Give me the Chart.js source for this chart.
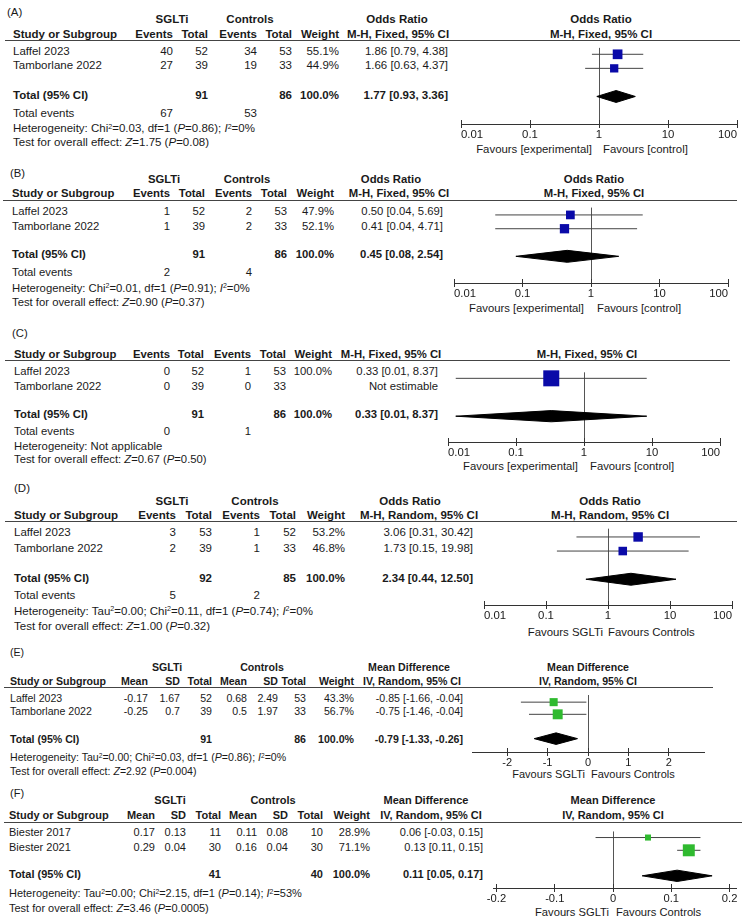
<!DOCTYPE html>
<html><head><meta charset="utf-8">
<script src="https://cdn.jsdelivr.net/npm/chart.js@4.4.1/dist/chart.umd.min.js"></script>
<style>
html,body{margin:0;padding:0;background:#fff;}
#root{position:relative;width:751px;height:920px;overflow:hidden;font-family:"Liberation Sans",Arial,Helvetica,sans-serif;color:#1a1a1a;background:#fff;}
.t{position:absolute;white-space:nowrap;height:16px;line-height:16px;}
.t sup{font-size:0.62em;position:relative;top:-0.45em;vertical-align:baseline;line-height:0;}
.hl{position:absolute;height:1px;background:#444;}
canvas{position:absolute;left:0;}
</style></head><body><div id="root"></div>
<script>
// ================= DATA =================
const OR_ticks = [0.01, 0.1, 1, 10, 100];
const E_ticks = [-2, -1, 0, 1, 2];
const F_ticks = [-0.2, -0.1, 0, 0.1, 0.2];

// (A)
const A_studies = ['Laffel 2023', 'Tamborlane 2022'];
const A_expEvents = [40, 27];
const A_expTotal = [52, 39];
const A_ctlEvents = [34, 19];
const A_ctlTotal = [53, 33];
const A_weight = [55.1, 44.9];
const A_est = [1.86, 1.66];
const A_lo = [0.79, 0.63];
const A_hi = [4.38, 4.37];
const A_pooled = [1.77, 0.93, 3.36];
const A_totalN = [91, 86];
const A_totalEvents = [67, 53];
const A_groups = ['SGLTi', 'Controls', 'Odds Ratio'];
const A_method = ['Odds Ratio', 'M-H, Fixed, 95% CI'];
const A_favours = ['Favours [experimental]', 'Favours [control]'];
const A_het = 'Heterogeneity: Chi<sup>2</sup>=0.03, df=1 (<i>P</i>=0.86); <i>I</i><sup>2</sup>=0%';
const A_test = 'Test for overall effect: <i>Z</i>=1.75 (<i>P</i>=0.08)';

// (B)
const B_studies = ['Laffel 2023', 'Tamborlane 2022'];
const B_expEvents = [1, 1];
const B_expTotal = [52, 39];
const B_ctlEvents = [2, 2];
const B_ctlTotal = [53, 33];
const B_weight = [47.9, 52.1];
const B_est = [0.50, 0.41];
const B_lo = [0.04, 0.04];
const B_hi = [5.69, 4.71];
const B_pooled = [0.45, 0.08, 2.54];
const B_totalN = [91, 86];
const B_totalEvents = [2, 4];
const B_groups = ['SGLTi', 'Controls', 'Odds Ratio'];
const B_method = ['Odds Ratio', 'M-H, Fixed, 95% CI'];
const B_favours = ['Favours [experimental]', 'Favours [control]'];
const B_het = 'Heterogeneity: Chi<sup>2</sup>=0.01, df=1 (<i>P</i>=0.91); <i>I</i><sup>2</sup>=0%';
const B_test = 'Test for overall effect: <i>Z</i>=0.90 (<i>P</i>=0.37)';

// (C)
const C_studies = ['Laffel 2023', 'Tamborlane 2022'];
const C_expEvents = [0, 0];
const C_expTotal = [52, 39];
const C_ctlEvents = [1, 0];
const C_ctlTotal = [53, 33];
const C_weight = [100.0, null];
const C_est = [0.33, null];
const C_lo = [0.013, null];
const C_hi = [8.37, null];
const C_pooled = [0.33, 0.013, 8.37];
const C_totalN = [91, 86];
const C_totalEvents = [0, 1];
const C_groups = [];
const C_method = [null, 'M-H, Fixed, 95% CI'];
const C_favours = ['Favours [experimental]', 'Favours [control]'];
const C_het = 'Heterogeneity: Not applicable';
const C_test = 'Test for overall effect: <i>Z</i>=0.67 (<i>P</i>=0.50)';

// (D)
const D_studies = ['Laffel 2023', 'Tamborlane 2022'];
const D_expEvents = [3, 2];
const D_expTotal = [53, 39];
const D_ctlEvents = [1, 1];
const D_ctlTotal = [52, 33];
const D_weight = [53.2, 46.8];
const D_est = [3.06, 1.73];
const D_lo = [0.31, 0.15];
const D_hi = [30.42, 19.98];
const D_pooled = [2.34, 0.44, 12.50];
const D_totalN = [92, 85];
const D_totalEvents = [5, 2];
const D_groups = ['SGLTi', 'Controls', 'Odds Ratio'];
const D_method = ['Odds Ratio', 'M-H, Random, 95% CI'];
const D_favours = ['Favours SGLTi', 'Favours Controls'];
const D_het = 'Heterogeneity: Tau<sup>2</sup>=0.00; Chi<sup>2</sup>=0.11, df=1 (<i>P</i>=0.74); <i>I</i><sup>2</sup>=0%';
const D_test = 'Test for overall effect: <i>Z</i>=1.00 (<i>P</i>=0.32)';

// (E)
const E_studies = ['Laffel 2023', 'Tamborlane 2022'];
const E_expMean = [-0.17, -0.25];
const E_expSD = [1.67, 0.7];
const E_expN = [52, 39];
const E_ctlMean = [0.68, 0.5];
const E_ctlSD = [2.49, 1.97];
const E_ctlN = [53, 33];
const E_weight = [43.3, 56.7];
const E_est = [-0.85, -0.75];
const E_lo = [-1.66, -1.46];
const E_hi = [-0.04, -0.04];
const E_pooled = [-0.79, -1.33, -0.26];
const E_totalN = [91, 86];
const E_groups = ['SGLTi', 'Controls', 'Mean Difference'];
const E_method = ['Mean Difference', 'IV, Random, 95% CI'];
const E_favours = ['Favours SGLTi', 'Favours Controls'];
const E_het = 'Heterogeneity: Tau<sup>2</sup>=0.00; Chi<sup>2</sup>=0.03, df=1 (<i>P</i>=0.86); <i>I</i><sup>2</sup>=0%';
const E_test = 'Test for overall effect: <i>Z</i>=2.92 (<i>P</i>=0.004)';

// (F)
const F_studies = ['Biester 2017', 'Biester 2021'];
const F_expMean = [0.17, 0.29];
const F_expSD = [0.13, 0.04];
const F_expN = [11, 30];
const F_ctlMean = [0.11, 0.16];
const F_ctlSD = [0.08, 0.04];
const F_ctlN = [10, 30];
const F_weight = [28.9, 71.1];
const F_est = [0.06, 0.13];
const F_lo = [-0.03, 0.11];
const F_hi = [0.15, 0.15];
const F_pooled = [0.11, 0.05, 0.17];
const F_totalN = [41, 40];
const F_groups = ['SGLTi', 'Controls', 'Mean Difference'];
const F_method = ['Mean Difference', 'IV, Random, 95% CI'];
const F_favours = ['Favours SGLTi', 'Favours Controls'];
const F_het = 'Heterogeneity: Tau<sup>2</sup>=0.00; Chi<sup>2</sup>=2.15, df=1 (<i>P</i>=0.14); <i>I</i><sup>2</sup>=53%';
const F_test = 'Test for overall effect: <i>Z</i>=3.46 (<i>P</i>=0.0005)';

const OR_colNames = ['Events', 'Total', 'Events', 'Total', 'Weight'];
const MD_colNames = ['Mean', 'SD', 'Total', 'Mean', 'SD', 'Total', 'Weight'];

// ================= LAYOUT =================
const FONT = '"Liberation Sans", Arial, Helvetica, sans-serif';
const BLUE = '#0a0aa8';
const GREEN = '#2fba2f';

const LA = {label:'(A)', labelX:7, labelY:12, fs:11.5, studyX:13, yH1:19, yH2:33.5, lineY:40, lineX0:5, lineX1:740,
  rowsY:[51,65], totalY:94.8, eventsY:112.5, hetY:128.3, testY:142,
  colR:[173,208,257,292,339], ciR:448, ciHC:398, h1X:[172,250,397],
  f:{top:41, axis:124, left:461, right:737, ymin:0.543, ymax:5.957, log:true, min:0.01, max:100, align:'inner', nullV:1,
     cx:601, yT1:19, yT2:33.5, favY:149, favL:592, favR:603, fs:11.4, color:BLUE}};
const LB = {label:'(B)', labelX:10, labelY:172.5, fs:11.3, studyX:12, yH1:178.5, yH2:193, lineY:200, lineX0:3, lineX1:737,
  rowsY:[211,226], totalY:254, eventsY:271.7, hetY:287.5, testY:301.5,
  colR:[170,205,252,287,334], ciR:443, ciHC:399, h1X:[164,247,391],
  f:{top:201, axis:283, left:454, right:728, ymin:0.467, ymax:5.933, log:true, min:0.01, max:100, align:'inner', nullV:1,
     cx:594, yT1:178.5, yT2:193, favY:307.5, favL:584, favR:597, fs:11.3, color:BLUE}};
const LC = {label:'(C)', labelX:12, labelY:332.5, fs:11.3, studyX:14, yH1:0, yH2:354, lineY:360, lineX0:5, lineX1:730,
  rowsY:[371,386], totalY:414, eventsY:431, hetY:446, testY:459,
  colR:[170,204,251,286,332], ciR:438, ciHC:391, h1X:[],
  f:{top:361, axis:442, left:448, right:720, ymin:0.523, ymax:6.045, log:true, min:0.01, max:100, align:'inner', nullV:1,
     cx:587, yT1:0, yT2:354, favY:465.5, favL:578, favR:590, fs:11.3, color:BLUE}};
const LD = {label:'(D)', labelX:14, labelY:488, fs:11.5, studyX:14, yH1:500.5, yH2:515, lineY:521, lineX0:5, lineX1:737,
  rowsY:[532,548], totalY:577.5, eventsY:595, hetY:610.5, testY:626,
  colR:[176,212,260,296,345], ciR:473, ciHC:419, h1X:[172,255,410],
  f:{top:522, axis:605, left:484, right:732, ymin:0.413, ymax:5.827, log:true, min:0.01, max:100, align:'inner', nullV:1,
     cx:610, yT1:500.5, yT2:515, favY:631.5, favL:603, favR:608, fs:11.4, color:BLUE}};
const LE = {label:'(E)', labelX:10, labelY:651.5, fs:10.6, studyX:10, yH1:667, yH2:681, lineY:687, lineX0:4, lineX1:713,
  rowsY:[697.5,711], totalY:738.5, eventsY:null, hetY:756.5, testY:771,
  colR:[148,180,212,247,278,306,354], ciR:463, ciHC:412, h1X:[167,262,409],
  f:{top:688, axis:752, left:472, right:704, ymin:0.415, ymax:5.097, log:false, min:-2.87, max:2.87, align:'center', nullV:0,
     cx:588, yT1:667, yT2:681, favY:773.5, favL:585, favR:591, fs:11, color:GREEN}};
const LF = {label:'(F)', labelX:10, labelY:792.5, fs:11, studyX:9, yH1:800, yH2:815, lineY:822, lineX0:4, lineX1:742,
  rowsY:[832,846.5], totalY:874, eventsY:null, hetY:893, testY:908,
  colR:[155,186,221,257,288,323,370], ciR:483, ciHC:431, h1X:[170,273,426],
  f:{top:823, axis:888, left:493, right:736, ymin:0.523, ymax:4.954, log:false, min:-0.206, max:0.211, align:'center', nullV:0,
     cx:613, yT1:800, yT2:815, favY:912, favL:609, favR:616, fs:11.2, color:GREEN}};

// ================= HELPERS =================
const root = document.getElementById('root');
function T(x, y, html, align, size, bold) {
  const d = document.createElement('div');
  d.className = 't';
  d.style.fontSize = size + 'px';
  if (bold) d.style.fontWeight = 'bold';
  d.style.top = (y - 8) + 'px';
  if (align === 'left') d.style.left = x + 'px';
  else if (align === 'right') d.style.right = (751 - x) + 'px';
  else { d.style.left = (x - 150) + 'px'; d.style.width = '300px'; d.style.textAlign = 'center'; }
  d.innerHTML = html;
  root.appendChild(d);
}
function HL(x0, x1, y) {
  const d = document.createElement('div');
  d.className = 'hl';
  d.style.left = x0 + 'px'; d.style.width = (x1 - x0) + 'px'; d.style.top = y + 'px';
  root.appendChild(d);
}
const f2 = v => v.toFixed(2);
const ciText = (e, l, h) => f2(e) + ' [' + f2(l) + ', ' + f2(h) + ']';
const pct = w => w.toFixed(1) + '%';

function buildTable(L, D) {
  T(L.labelX, L.labelY, L.label, 'left', L.fs, false);
  D.groups.forEach((g, j) => T(L.h1X[j], L.yH1, g, 'center', L.fs, true));
  T(L.studyX, L.yH2, 'Study or Subgroup', 'left', L.fs, true);
  D.colNames.forEach((n, j) => T(L.colR[j], L.yH2, n, 'right', L.fs, true));
  T(L.ciHC, L.yH2, D.method[1], 'center', L.fs, true);
  HL(L.lineX0, L.lineX1, L.lineY);
  const nc = D.cols.length;
  D.studies.forEach((s, i) => {
    const y = L.rowsY[i];
    T(L.studyX, y, s, 'left', L.fs, false);
    D.cols.forEach((arr, j) => T(L.colR[j], y, String(arr[i]), 'right', L.fs, false));
    if (D.weight[i] != null) T(L.colR[nc], y, pct(D.weight[i]), 'right', L.fs, false);
    T(L.ciR, y, D.est[i] == null ? 'Not estimable' : ciText(D.est[i], D.lo[i], D.hi[i]), 'right', L.fs, false);
  });
  T(L.studyX, L.totalY, 'Total (95% CI)', 'left', L.fs, true);
  D.totalCols.forEach((c, k) => T(L.colR[c], L.totalY, String(D.totalN[k]), 'right', L.fs, true));
  const wsum = D.weight.filter(w => w != null).reduce((a, b) => a + b, 0);
  T(L.colR[nc], L.totalY, pct(wsum), 'right', L.fs, true);
  T(L.ciR, L.totalY, ciText(D.pooled[0], D.pooled[1], D.pooled[2]), 'right', L.fs, true);
  if (D.totalEvents) {
    T(L.studyX, L.eventsY, 'Total events', 'left', L.fs, false);
    T(L.colR[0], L.eventsY, String(D.totalEvents[0]), 'right', L.fs, false);
    T(L.colR[2], L.eventsY, String(D.totalEvents[1]), 'right', L.fs, false);
  }
  T(L.studyX, L.hetY, D.het, 'left', L.fs, false);
  T(L.studyX, L.testY, D.test, 'left', L.fs, false);
}

const crossPlugin = {
  id: 'tickCross',
  afterDraw(chart) {
    const s = chart.scales.x, ctx = chart.ctx, b = chart.chartArea.bottom;
    ctx.save();
    ctx.strokeStyle = '#333';
    ctx.lineWidth = 1;
    s.ticks.forEach(t => {
      const px = Math.round(s.getPixelForValue(t.value) - 0.5) + 0.5;
      ctx.beginPath(); ctx.moveTo(px, b - 4); ctx.lineTo(px, b); ctx.stroke();
    });
    ctx.restore();
  }
};

function buildForest(L, D) {
  const F = L.f;
  if (D.method[0]) T(F.cx, F.yT1, D.method[0], 'center', L.fs, true);
  T(F.cx, F.yT2, D.method[1], 'center', L.fs, true);
  T(F.favL, F.favY, D.favours[0], 'right', F.fs, false);
  T(F.favR, F.favY, D.favours[1], 'left', F.fs, false);

  const cv = document.createElement('canvas');
  const H = F.axis - F.top + 24;
  cv.width = 751; cv.height = H;
  cv.style.width = '751px'; cv.style.height = H + 'px';
  cv.style.top = F.top + 'px';
  root.appendChild(cv);

  const ppu = (F.axis - F.top) / (F.ymax - F.ymin);
  const half = 6.5 / ppu;
  const rows = D.est.map((_, i) => i + 1);
  const totalRow = D.est.length + 2;
  const ds = [];
  D.est.forEach((e, i) => {
    if (e == null) return;
    ds.push({type:'line', data:[{x:D.lo[i], y:rows[i]}, {x:D.hi[i], y:rows[i]}],
      borderColor:'#444', borderWidth:1, pointRadius:0, pointHoverRadius:0, fill:false, order:2, clip:false, tension:0});
  });
  const idx = D.est.map((e, i) => i).filter(i => D.est[i] != null);
  const radii = idx.map(i => (2 + 0.14 * D.weight[i]) / Math.SQRT2);
  ds.push({type:'scatter', data: idx.map(i => ({x:D.est[i], y:rows[i]})), pointStyle:'rect',
    pointRadius: radii, pointHoverRadius: radii, backgroundColor: F.color, pointBackgroundColor: F.color,
    borderWidth:0, pointBorderWidth:0, order:0, clip:false});
  const pe = D.pooled[0], pl = D.pooled[1], ph = D.pooled[2];
  ds.push({type:'line', data:[{x:pl, y:totalRow}, {x:pe, y:totalRow - half}, {x:ph, y:totalRow}, {x:pe, y:totalRow + half}, {x:pl, y:totalRow}],
    fill:'shape', backgroundColor:'#000', borderColor:'#000', borderWidth:1, pointRadius:0, pointHoverRadius:0, order:1, clip:false, tension:0});

  new Chart(cv, {
    type: 'scatter',
    data: { datasets: ds },
    options: {
      responsive: false, animation: false, devicePixelRatio: 1, events: [],
      layout: { padding: { left: F.left, right: 751 - F.right, top: 0, bottom: 0 } },
      plugins: { legend: { display: false }, tooltip: { enabled: false } },
      scales: {
        x: {
          type: F.log ? 'logarithmic' : 'linear', min: F.min, max: F.max, position: 'bottom',
          afterBuildTicks: s => { s.ticks = D.ticks.map(v => ({ value: v })); },
          afterFit: s => { s.height = 24; },
          ticks: { align: F.align, padding: 0, color: '#1a1a1a', font: { size: F.fs, family: FONT }, maxRotation: 0, minRotation: 0, autoSkip: false,
                   callback: v => String(v) },
          grid: { drawOnChartArea: true, drawTicks: true, tickLength: 4, lineWidth: 1, tickColor: '#333',
                  color: c => (c.tick && c.tick.value === F.nullV) ? '#555' : 'rgba(0,0,0,0)' },
          border: { display: true, color: '#333', width: 1 }
        },
        y: { type: 'linear', display: false, reverse: true, min: F.ymin, max: F.ymax }
      }
    },
    plugins: [crossPlugin]
  });
}

function panel(L, D) { buildTable(L, D); buildForest(L, D); }

Chart.defaults.font.family = FONT;

panel(LA, {studies:A_studies, cols:[A_expEvents, A_expTotal, A_ctlEvents, A_ctlTotal], colNames:OR_colNames, weight:A_weight,
  est:A_est, lo:A_lo, hi:A_hi, pooled:A_pooled, totalN:A_totalN, totalCols:[1,3], totalEvents:A_totalEvents,
  groups:A_groups, method:A_method, favours:A_favours, het:A_het, test:A_test, ticks:OR_ticks});
panel(LB, {studies:B_studies, cols:[B_expEvents, B_expTotal, B_ctlEvents, B_ctlTotal], colNames:OR_colNames, weight:B_weight,
  est:B_est, lo:B_lo, hi:B_hi, pooled:B_pooled, totalN:B_totalN, totalCols:[1,3], totalEvents:B_totalEvents,
  groups:B_groups, method:B_method, favours:B_favours, het:B_het, test:B_test, ticks:OR_ticks});
panel(LC, {studies:C_studies, cols:[C_expEvents, C_expTotal, C_ctlEvents, C_ctlTotal], colNames:OR_colNames, weight:C_weight,
  est:C_est, lo:C_lo, hi:C_hi, pooled:C_pooled, totalN:C_totalN, totalCols:[1,3], totalEvents:C_totalEvents,
  groups:C_groups, method:C_method, favours:C_favours, het:C_het, test:C_test, ticks:OR_ticks});
panel(LD, {studies:D_studies, cols:[D_expEvents, D_expTotal, D_ctlEvents, D_ctlTotal], colNames:OR_colNames, weight:D_weight,
  est:D_est, lo:D_lo, hi:D_hi, pooled:D_pooled, totalN:D_totalN, totalCols:[1,3], totalEvents:D_totalEvents,
  groups:D_groups, method:D_method, favours:D_favours, het:D_het, test:D_test, ticks:OR_ticks});
panel(LE, {studies:E_studies, cols:[E_expMean, E_expSD, E_expN, E_ctlMean, E_ctlSD, E_ctlN], colNames:MD_colNames, weight:E_weight,
  est:E_est, lo:E_lo, hi:E_hi, pooled:E_pooled, totalN:E_totalN, totalCols:[2,5], totalEvents:null,
  groups:E_groups, method:E_method, favours:E_favours, het:E_het, test:E_test, ticks:E_ticks});
panel(LF, {studies:F_studies, cols:[F_expMean, F_expSD, F_expN, F_ctlMean, F_ctlSD, F_ctlN], colNames:MD_colNames, weight:F_weight,
  est:F_est, lo:F_lo, hi:F_hi, pooled:F_pooled, totalN:F_totalN, totalCols:[2,5], totalEvents:null,
  groups:F_groups, method:F_method, favours:F_favours, het:F_het, test:F_test, ticks:F_ticks});
</script></body></html>
